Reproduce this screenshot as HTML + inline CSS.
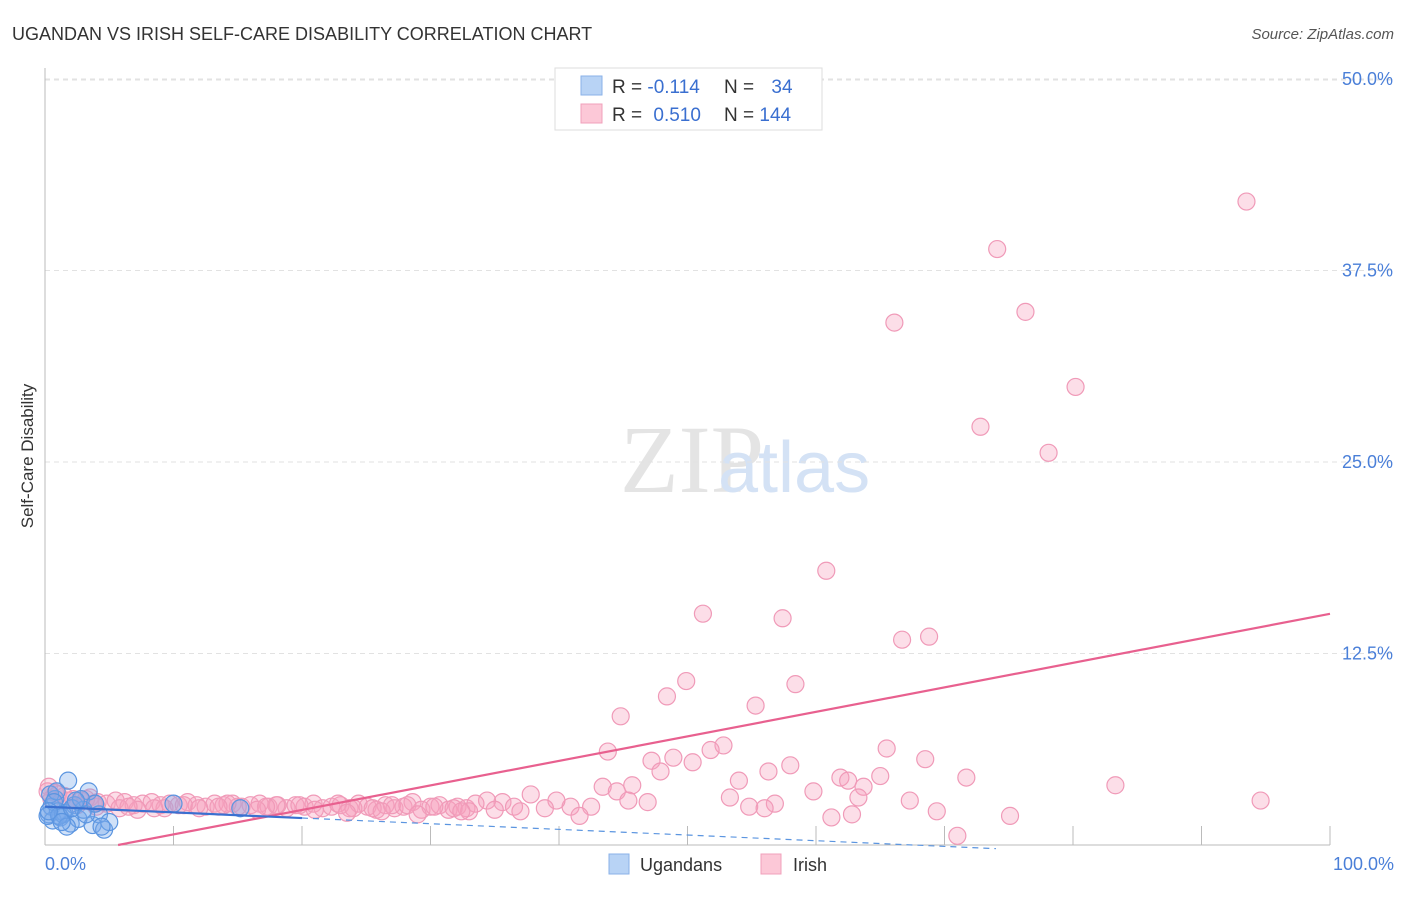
<!DOCTYPE html>
<html><head><meta charset="utf-8"><style>
body{margin:0;background:#fff;width:1406px;height:892px;overflow:hidden;font-family:"Liberation Sans",sans-serif}
</style></head><body>
<svg width="1406" height="892" font-family="Liberation Sans, sans-serif">
<text x="12" y="40" font-size="18" fill="#333">UGANDAN VS IRISH SELF-CARE DISABILITY CORRELATION CHART</text>
<text x="1394" y="39" font-size="15" fill="#555" font-style="italic" text-anchor="end">Source: ZipAtlas.com</text>
<text x="620" y="492" font-size="96" fill="#e4e4e4" font-family="Liberation Serif, serif">ZIP</text>
<text x="718" y="492" font-size="72" fill="#d4e2f5">atlas</text>
<g id="grid"></g><g id="axes"></g><g id="pts"></g><g id="lines"></g>
<text x="33" y="456" font-size="17" fill="#333" text-anchor="middle" transform="rotate(-90 33 456)">Self-Care Disability</text>
<text x="45" y="870" font-size="18" fill="#4a7fd8">0.0%</text>
<text x="1394" y="870" font-size="18" fill="#4a7fd8" text-anchor="end">100.0%</text>
<g>
<rect x="555" y="68" width="267" height="62" fill="#fff" stroke="#ddd"/>
<rect x="581" y="76" width="21" height="19" fill="#b8d3f5" stroke="#8ab2e8"/>
<rect x="581" y="104" width="21" height="19" fill="#fcc8d7" stroke="#f0a0bb"/>
<text x="612" y="93" font-size="19" fill="#333">R = <tspan fill="#3a6fd0">-0.114</tspan></text>
<text x="724" y="93" font-size="19" fill="#333">N = <tspan fill="#3a6fd0" dx="12">34</tspan></text>
<text x="612" y="121" font-size="19" fill="#333">R = <tspan fill="#3a6fd0" dx="6">0.510</tspan></text>
<text x="724" y="121" font-size="19" fill="#333">N = <tspan fill="#3a6fd0">144</tspan></text>
</g>
<g>
<rect x="609" y="854" width="20" height="20" fill="#b8d3f5" stroke="#8ab2e8"/>
<text x="640" y="871" font-size="18" fill="#333">Ugandans</text>
<rect x="761" y="854" width="20" height="20" fill="#fcc8d7" stroke="#f0a0bb"/>
<text x="793" y="871" font-size="18" fill="#333">Irish</text>
</g>
</svg>
<script>
const yTicks=[12.5,25,37.5,50];
const yTickLabels=["12.5%","25.0%","37.5%","50.0%"];
const xTicks=[0,10,20,30,40,50,60,70,80,90,100];
const irishX=[93.5,74.1,66.1,76.3,80.2,72.8,78.1,60.8,51.2,57.4,66.7,68.8,49.9,48.4,58.4,55.3,44.8,43.8,52.8,65.5,51.8,48.9,47.2,50.4,68.5,47.9,56.3,58.0,71.7,65.0,61.9,62.5,54.0,45.7,63.7,83.3,43.4,44.5,59.8,53.3,63.3,67.3,94.6,46.9,45.4,56.8,54.8,56.0,69.4,62.8,61.2,75.1,71.0,40.9,37.8,39.8,42.5,41.6,38.9,35.6,34.4,
0.3,0.8,1.5,2.2,2.8,3.5,4.1,4.8,5.5,6.2,6.9,7.6,8.3,9.0,9.7,10.4,11.1,11.8,12.5,13.2,13.9,14.6,15.3,16.0,16.7,17.4,18.1,18.8,19.5,20.2,20.9,21.6,22.3,23.0,23.7,24.4,25.1,25.8,26.5,27.2,27.9,28.6,29.3,30.0,30.7,31.4,32.1,32.8,33.5,36.5,1.0,2.5,4.0,5.8,7.2,9.3,12.0,15.0,18.0,21.0,24.0,27.0,30.3,33.0,0.5,1.8,3.2,6.5,10.8,14.2,17.2,19.8,22.8,25.5,28.2,31.8,35.0,37.0,0.2,3.8,8.5,13.5,16.5,23.5,26.2,29.0,32.4];
const irishY=[42.0,38.9,34.1,34.8,29.9,27.3,25.6,17.9,15.1,14.8,13.4,13.6,10.7,9.7,10.5,9.1,8.4,6.1,6.5,6.3,6.2,5.7,5.5,5.4,5.6,4.8,4.8,5.2,4.4,4.5,4.4,4.2,4.2,3.9,3.8,3.9,3.8,3.5,3.5,3.1,3.1,2.9,2.9,2.8,2.9,2.7,2.5,2.4,2.2,2.0,1.8,1.9,0.6,2.5,3.3,2.9,2.5,1.9,2.4,2.8,2.9,
3.8,3.4,3.2,3.0,2.9,3.1,2.8,2.7,2.9,2.8,2.6,2.7,2.8,2.6,2.7,2.6,2.8,2.6,2.5,2.7,2.6,2.7,2.5,2.6,2.7,2.5,2.6,2.4,2.6,2.5,2.7,2.4,2.5,2.6,2.4,2.7,2.5,2.3,2.6,2.4,2.5,2.8,2.3,2.5,2.6,2.3,2.5,2.4,2.7,2.5,3.3,2.6,2.5,2.4,2.3,2.4,2.4,2.5,2.6,2.3,2.4,2.6,2.5,2.2,3.0,2.9,3.0,2.5,2.6,2.7,2.5,2.6,2.7,2.4,2.6,2.4,2.3,2.2,3.5,2.7,2.4,2.5,2.3,2.1,2.2,2.0,2.2];
const ugX=[0.3,0.5,0.8,1.0,1.2,0.4,0.6,1.5,1.8,2.0,2.3,0.2,0.9,1.4,2.6,3.0,3.4,3.7,4.2,4.6,5.0,0.7,1.1,1.7,2.1,2.8,3.2,3.9,4.4,0.3,1.3,2.4,10.0,15.2];
const ugY=[2.0,2.5,3.0,2.2,1.8,3.3,1.6,2.1,4.2,1.4,2.6,1.9,3.5,2.0,1.7,2.3,3.5,1.3,2.0,1.0,1.5,2.8,1.9,1.2,2.4,3.0,2.0,2.7,1.2,2.2,1.5,2.9,2.7,2.4];
const irishFit=[-0.91,0.16];
const ugFit=[2.5,-0.037];
const X0=45,X1=1330,Y0=845,YPER=766/50;
const sx=v=>X0+(X1-X0)*v/100, sy=v=>Y0-v*YPER;
const NS="http://www.w3.org/2000/svg";
function mk(t,a,p){const e=document.createElementNS(NS,t);for(const k in a)e.setAttribute(k,a[k]);p.appendChild(e);return e;}
const grid=document.getElementById('grid'),axes=document.getElementById('axes'),pts=document.getElementById('pts'),lines=document.getElementById('lines');
mk('line',{x1:X0,x2:1394,y1:80,y2:80,stroke:'#e2e2e2','stroke-dasharray':'5,4'},grid);
yTicks.forEach((t,i)=>{
 const l=mk('line',{x1:X0,x2:1394,y1:sy(t),y2:sy(t),stroke:'#e2e2e2','stroke-dasharray':'5,4'},grid);
 
 
 const tx=mk('text',{x:1393,y:sy(t)+6,'font-size':18,fill:'#4a7fd8','text-anchor':'end'},grid);
 tx.textContent=yTickLabels[i];
 
 
});
mk('line',{x1:X0,x2:X0,y1:68,y2:Y0,stroke:'#bbb'},axes);
mk('line',{x1:X0,x2:X1,y1:Y0,y2:Y0,stroke:'#bbb'},axes);
xTicks.forEach(t=>{const l=mk('line',{x1:sx(t),x2:sx(t),y1:Y0-19,y2:Y0,stroke:'#bbb'},axes);
 
 });
irishX.forEach((x,i)=>{const c=mk('circle',{cx:sx(x),cy:sy(irishY[i]),r:8.5,fill:'rgba(246,160,190,0.35)',stroke:'#f09ab8','stroke-width':1.2},pts);
 
 });
ugX.forEach((x,i)=>{const c=mk('circle',{cx:sx(x),cy:sy(ugY[i]),r:8.5,fill:'rgba(120,170,235,0.35)',stroke:'#5b95e0','stroke-width':1.2},pts);
 
 });
const x0i=-irishFit[0]/irishFit[1];
const pl=mk('line',{x1:sx(x0i),y1:sy(0),x2:sx(100),y2:sy(irishFit[0]+irishFit[1]*100),stroke:'#e8608f','stroke-width':2.2},lines);


const bl=mk('line',{x1:sx(0),y1:sy(ugFit[0]),x2:sx(20),y2:sy(ugFit[0]+ugFit[1]*20),stroke:'#3a70d0','stroke-width':2.2},lines);


const bd=mk('line',{x1:sx(20),y1:sy(ugFit[0]+ugFit[1]*20),x2:sx(74),y2:sy(ugFit[0]+ugFit[1]*74),stroke:'#5b95e0','stroke-width':1.2,'stroke-dasharray':'6,5'},lines);


</script>
</body></html>
